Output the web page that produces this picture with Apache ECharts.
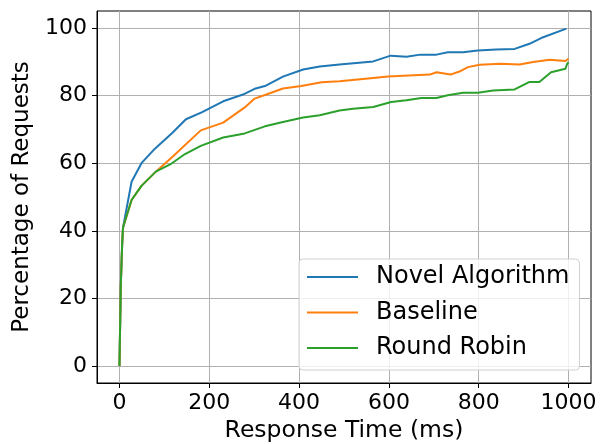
<!DOCTYPE html>
<html>
<head>
<meta charset="utf-8">
<script src="https://cdn.jsdelivr.net/npm/echarts@6/dist/echarts.min.js"></script>
<style>html,body{margin:0;padding:0;background:#fff}#c{width:600px;height:444px}</style>
</head>
<body>
<div id="c"></div>
<script>
const seriesNames = ['Novel Algorithm', 'Baseline', 'Round Robin'];
const xTicks = [0, 200, 400, 600, 800, 1000];
const yTicks = [0, 20, 40, 60, 80, 100];
const novel = [[0,0],[3,24],[6,36],[8,41],[27,54.5],[49,60],[79,64.3],[118,69],[148,73],[183,75],[231,78.3],[275,80.3],[301,82],[324,82.8],[364,85.6],[409,87.7],[446,88.6],[490,89.2],[565,90.1],[604,91.8],[639,91.5],[670,92.1],[706,92.1],[731,92.8],[765,92.8],[798,93.3],[839,93.6],[880,93.8],[913,95.3],[939,97],[995,99.8]];
const baseline = [[0,0],[3,24],[6,36],[8,41],[27,49.1],[49,53.3],[81,57.5],[120,62.1],[181,69.7],[231,72],[279,76.5],[301,79.1],[327,80.3],[364,82.1],[405,82.8],[450,83.9],[490,84.2],[565,85.2],[598,85.6],[691,86.2],[706,86.9],[737,86.2],[757,87.1],[776,88.4],[802,89.1],[848,89.4],[849,89.9],[891,89.2],[921,89.9],[958,90.6],[993,90.2],[1000,90.9]];
const roundRobin = [[0,0],[3,24],[6,36],[8,41],[27,49.1],[49,53.3],[81,57.5],[116,59.9],[146,62.7],[181,65.1],[231,67.6],[279,68.8],[324,70.9],[364,72.2],[409,73.5],[446,74.2],[490,75.6],[520,76.1],[565,76.6],[605,78.1],[639,78.6],[672,79.3],[706,79.3],[731,80.1],[765,80.8],[798,80.8],[832,81.5],[880,81.8],[912,84],[935,84],[961,86.9],[993,87.9],[997,89.4],[1000,89.9]];
const colors = ['#1f77b4', '#ff7f0e', '#2ca02c'];
const allData = [novel, baseline, roundRobin];

const font = 'DejaVu Sans';
const chart = echarts.init(document.getElementById('c'), null, {renderer: 'canvas'});
chart.setOption({
  animation: false,
  backgroundColor: '#fff',
  grid: {left: 97, top: 11, right: 9, bottom: 61, containLabel: false, outerBoundsMode: 'none', show: true, borderColor: '#000', borderWidth: 1, backgroundColor: 'transparent'},
  xAxis: {
    type: 'value', min: -50, max: 1050,
    name: 'Response Time (ms)', nameLocation: 'middle', nameGap: 35,
    nameTextStyle: {fontFamily: font, fontSize: 23.5, color: '#000'},
    axisLine: {show: true, onZero: false, lineStyle: {color: '#000', width: 1}},
    axisTick: {show: true, customValues: xTicks, length: 5, lineStyle: {color: '#000'}},
    axisLabel: {customValues: xTicks, formatter: v => String(v), fontFamily: font, fontSize: 22, color: '#000', margin: 9},
    splitLine: {show: true, lineStyle: {color: '#b0b0b0', width: 1}}
  },
  yAxis: {
    type: 'value', min: -5, max: 105,
    name: 'Percentage of Requests', nameLocation: 'middle', nameGap: 63,
    nameTextStyle: {fontFamily: font, fontSize: 23, color: '#000'},
    axisLine: {show: true, onZero: false, lineStyle: {color: '#000', width: 1}},
    axisTick: {show: true, customValues: yTicks, length: 5, lineStyle: {color: '#000'}},
    axisLabel: {customValues: yTicks, formatter: v => String(v), fontFamily: font, fontSize: 22, color: '#000', margin: 10},
    splitLine: {show: true, lineStyle: {color: '#b0b0b0', width: 1}}
  },
  legend: {
    orient: 'vertical', left: 299, top: 259,
    data: seriesNames.map(n => ({name: n, icon: 'rect'})),
    itemWidth: 51, itemHeight: 2, itemGap: 11.5,
    padding: [6, 10, 10, 8],
    backgroundColor: 'rgba(255,255,255,0.8)', borderColor: '#d0d0d0', borderWidth: 1, borderRadius: 4,
    textStyle: {fontFamily: font, fontSize: 24, color: '#000', padding: [0, 0, 0, 13], lineHeight: 24}
  },
  series: seriesNames.map((n, i) => ({
    name: n, type: 'line', data: allData[i], showSymbol: false, symbol: 'none',
    lineStyle: {color: colors[i], width: 2}, itemStyle: {color: colors[i]}
  }))
});
</script>
</body>
</html>
